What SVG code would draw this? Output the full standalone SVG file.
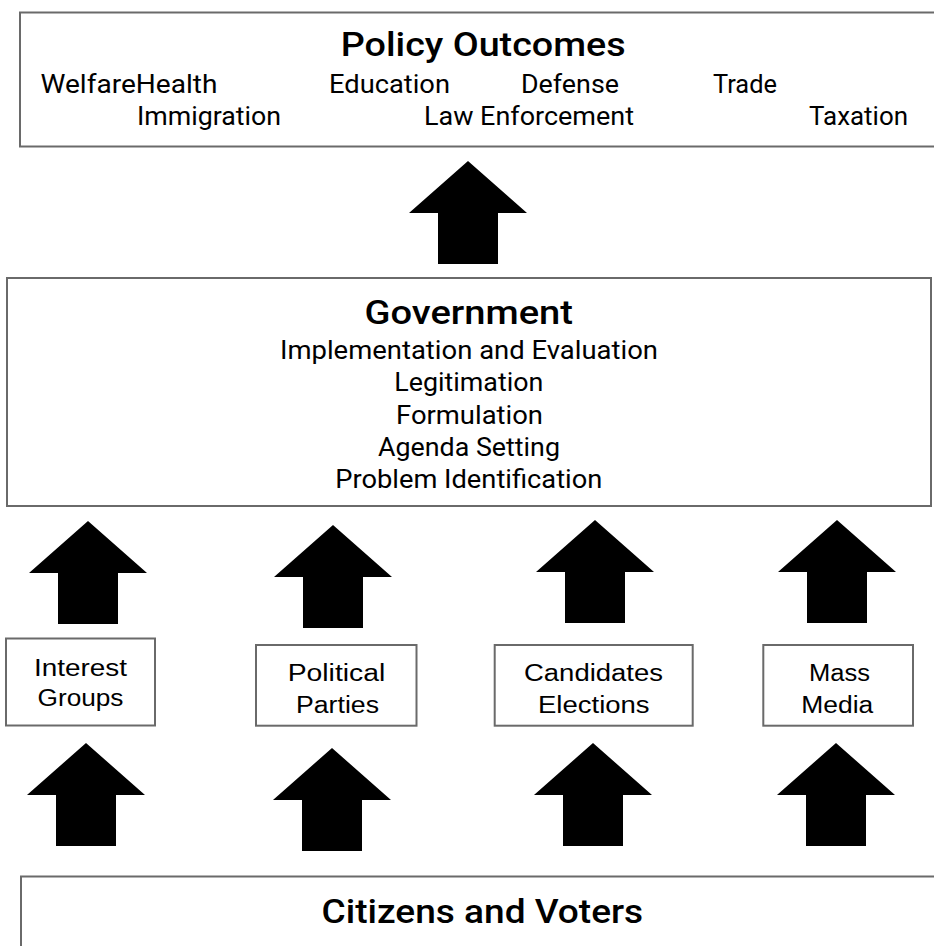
<svg xmlns="http://www.w3.org/2000/svg" width="934" height="946" viewBox="0 0 934 946">
  <style>
    .box { fill: #ffffff; stroke: #6a6a6a; stroke-width: 2; }
    .head { font-family: Roboto, "Liberation Sans", sans-serif; font-weight: 500; fill: #000; }
    .item { font-family: Roboto, "Liberation Sans", sans-serif; font-weight: 400; fill: #000; font-size: 25px; }
    .lbl { font-family: "Liberation Sans", Arial, sans-serif; fill: #000; font-size: 23.5px; text-anchor: middle; }
    .arrow { fill: #000; }
  </style>
  <defs>
    <!-- block arrow, tip at origin, pointing up -->
    <path id="up" d="M0,0 L59,52 L30,52 L30,103 L-30,103 L-30,52 L-59,52 Z"/>
  </defs>

  <g id="policy-outcomes">
    <rect class="box" x="20" y="12.5" width="940" height="134"/>
    <text class="head" x="340.7" y="56" font-size="33" textLength="285" lengthAdjust="spacingAndGlyphs">Policy Outcomes</text>
    <text class="item" x="40.5" y="93" textLength="177" lengthAdjust="spacingAndGlyphs">WelfareHealth</text>
    <text class="item" x="329" y="93" textLength="121" lengthAdjust="spacingAndGlyphs">Education</text>
    <text class="item" x="521" y="93" textLength="98" lengthAdjust="spacingAndGlyphs">Defense</text>
    <text class="item" x="713" y="93" textLength="64" lengthAdjust="spacingAndGlyphs">Trade</text>
    <text class="item" x="137" y="125" textLength="144" lengthAdjust="spacingAndGlyphs">Immigration</text>
    <text class="item" x="424" y="125" textLength="210" lengthAdjust="spacingAndGlyphs">Law Enforcement</text>
    <text class="item" x="809" y="125" textLength="99" lengthAdjust="spacingAndGlyphs">Taxation</text>
  </g>

  <g id="government">
    <rect class="box" x="7" y="278" width="924" height="228"/>
    <text class="head" x="364.5" y="324" font-size="33" textLength="208.5" lengthAdjust="spacingAndGlyphs">Government</text>
    <text class="item" x="280" y="359" textLength="378" lengthAdjust="spacingAndGlyphs">Implementation and Evaluation</text>
    <text class="item" x="394.3" y="390.5" textLength="149" lengthAdjust="spacingAndGlyphs">Legitimation</text>
    <text class="item" x="396" y="424" textLength="147" lengthAdjust="spacingAndGlyphs">Formulation</text>
    <text class="item" x="378" y="456" textLength="182" lengthAdjust="spacingAndGlyphs">Agenda Setting</text>
    <text class="item" x="335.3" y="487.5" textLength="267" lengthAdjust="spacingAndGlyphs">Problem Identification</text>
  </g>

  <g id="interest-groups">
    <rect class="box" x="6" y="638.5" width="149" height="87"/>
    <text class="lbl" x="80.5" y="675.5" textLength="93" lengthAdjust="spacingAndGlyphs">Interest</text>
    <text class="lbl" x="80.5" y="705.5" textLength="86" lengthAdjust="spacingAndGlyphs">Groups</text>
  </g>

  <g id="political-parties">
    <rect class="box" x="256" y="645" width="160.5" height="80.7"/>
    <text class="lbl" x="336.5" y="681" textLength="97.7" lengthAdjust="spacingAndGlyphs">Political</text>
    <text class="lbl" x="337.5" y="712.5" textLength="83" lengthAdjust="spacingAndGlyphs">Parties</text>
  </g>

  <g id="candidates-elections">
    <rect class="box" x="494.7" y="645" width="198" height="80.7"/>
    <text class="lbl" x="593.5" y="681" textLength="139" lengthAdjust="spacingAndGlyphs">Candidates</text>
    <text class="lbl" x="593.8" y="712.5" textLength="111.7" lengthAdjust="spacingAndGlyphs">Elections</text>
  </g>

  <g id="mass-media">
    <rect class="box" x="763.3" y="645" width="149.7" height="80.7"/>
    <text class="lbl" x="839.5" y="681" textLength="61" lengthAdjust="spacingAndGlyphs">Mass</text>
    <text class="lbl" x="837.3" y="712.5" textLength="72" lengthAdjust="spacingAndGlyphs">Media</text>
  </g>

  <g id="citizens-voters">
    <rect class="box" x="21" y="876.5" width="940" height="90"/>
    <text class="head" x="321.6" y="922.5" font-size="33" textLength="321.6" lengthAdjust="spacingAndGlyphs">Citizens and Voters</text>
  </g>

  <g id="connectors" class="arrow">
    <!-- government to policy outcomes -->
    <use href="#up" transform="translate(468,161)"/>
    <!-- intermediaries to government -->
    <use href="#up" transform="translate(88,521)"/>
    <use href="#up" transform="translate(333,525)"/>
    <use href="#up" transform="translate(595,520)"/>
    <use href="#up" transform="translate(837,520)"/>
    <!-- citizens to intermediaries -->
    <use href="#up" transform="translate(86,743)"/>
    <use href="#up" transform="translate(332,748)"/>
    <use href="#up" transform="translate(593,743)"/>
    <use href="#up" transform="translate(836,743)"/>
  </g>
</svg>
